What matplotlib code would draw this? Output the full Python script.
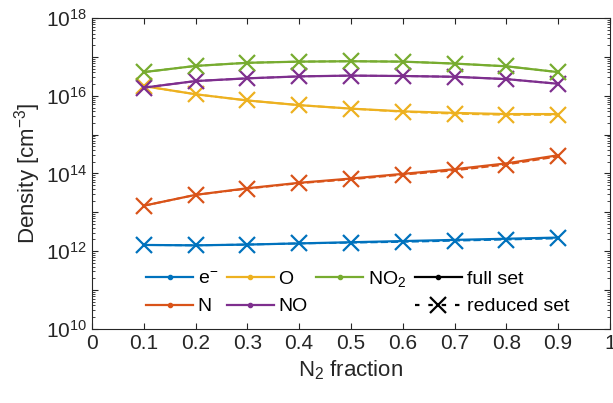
import numpy as np
import matplotlib.pyplot as plt
from matplotlib.lines import Line2D
from matplotlib.ticker import LogLocator, NullFormatter, FixedLocator

plt.rcParams['font.family'] = ['Liberation Sans', 'DejaVu Sans']
plt.rcParams['mathtext.fontset'] = 'custom'
plt.rcParams['mathtext.rm'] = 'Liberation Sans'
plt.rcParams['mathtext.it'] = 'Liberation Sans'
plt.rcParams['mathtext.default'] = 'regular'
plt.rcParams['xtick.direction'] = 'in'
plt.rcParams['ytick.direction'] = 'in'

x = [0.1, 0.2, 0.3, 0.4, 0.5, 0.6, 0.7, 0.8, 0.9]

# log10 of densities, full set
e_full = [12.16, 12.15, 12.17, 12.20, 12.23, 12.26, 12.29, 12.32, 12.35]
n_full = [13.17, 13.45, 13.62, 13.76, 13.87, 13.99, 14.11, 14.26, 14.47]
o_full = [16.25, 16.04, 15.88, 15.76, 15.67, 15.60, 15.56, 15.53, 15.53]
no_full = [16.21, 16.38, 16.45, 16.50, 16.52, 16.51, 16.49, 16.43, 16.31]
no2_full = [16.61, 16.77, 16.85, 16.88, 16.89, 16.88, 16.83, 16.76, 16.61]

# reduced set
e_red = [12.16, 12.15, 12.17, 12.20, 12.22, 12.24, 12.27, 12.30, 12.33]
n_red = [13.17, 13.45, 13.61, 13.75, 13.85, 13.97, 14.08, 14.23, 14.44]
o_red = [16.25, 16.04, 15.88, 15.76, 15.67, 15.59, 15.54, 15.51, 15.51]
no_red = [16.21, 16.38, 16.45, 16.50, 16.52, 16.51, 16.49, 16.43, 16.31]
no2_red = [16.61, 16.77, 16.85, 16.88, 16.89, 16.88, 16.83, 16.76, 16.61]

names = ['e$^{-}$', 'N', 'O', 'NO', 'NO$_2$']
colors = ['#0072BD', '#D95319', '#EDB120', '#7E2F8E', '#77AC30']
full = [e_full, n_full, o_full, no_full, no2_full]
red = [e_red, n_red, o_red, no_red, no2_red]

fig = plt.figure(figsize=(6.13, 4.03), dpi=100)
ax = fig.add_axes([0.150, 0.184, 0.845, 0.771])

for f, r, c in zip(full, red, colors):
    ax.plot(x, 10 ** np.array(f), '-', color=c, lw=1.6)
    ax.plot(x, 10 ** np.array(r), '--', color=c, lw=1.4, marker='x',
            ms=11, mew=1.6)

ax.set_yscale('log')
ax.set_xlim(0, 1)
ax.set_ylim(1e10, 1e18)
ax.xaxis.set_major_locator(FixedLocator(np.arange(0, 1.01, 0.1)))
ax.set_xticklabels(['0', '0.1', '0.2', '0.3', '0.4', '0.5', '0.6', '0.7', '0.8', '0.9', '1'])
ax.yaxis.set_major_locator(FixedLocator([10.0 ** k for k in range(10, 19)]))
ax.set_yticklabels(['$10^{%d}$' % k if k % 2 == 0 else '' for k in range(10, 19)])
ax.yaxis.set_minor_locator(LogLocator(base=10, subs=np.arange(2, 10), numticks=20))
ax.yaxis.set_minor_formatter(NullFormatter())
ax.tick_params(which='both', top=True, right=True, labelsize=15, color='#262626',
               labelcolor='#262626')
ax.tick_params(which='major', length=4)
ax.tick_params(which='minor', length=2)
for s in ax.spines.values():
    s.set_color('#262626')
    s.set_linewidth(0.8)

ax.set_xlabel('N$_2$ fraction', fontsize=16, color='#262626')
ax.set_ylabel('Density [cm$^{-3}$]', fontsize=16, color='#262626', labelpad=2)

handles = [Line2D([], [], color=c, lw=1.6, marker='.', ms=6) for c in colors]
handles.append(Line2D([], [], color='none'))
handles.append(Line2D([], [], color='k', lw=1.6, marker='.', ms=6))
handles.append(Line2D([], [], color='k', lw=1.6, ls=(0, (2, 4)), marker='x', ms=11, mew=1.6))
labels = names + ['', 'full set', 'reduced set']
ax.legend(handles, labels, ncol=4, loc='lower left', bbox_to_anchor=(0.09, 0.015),
          frameon=False, fontsize=14, handlelength=2.4, handletextpad=0.25,
          columnspacing=0.45, labelspacing=0.5, borderaxespad=0)

fig.savefig('out.png', dpi=100)
